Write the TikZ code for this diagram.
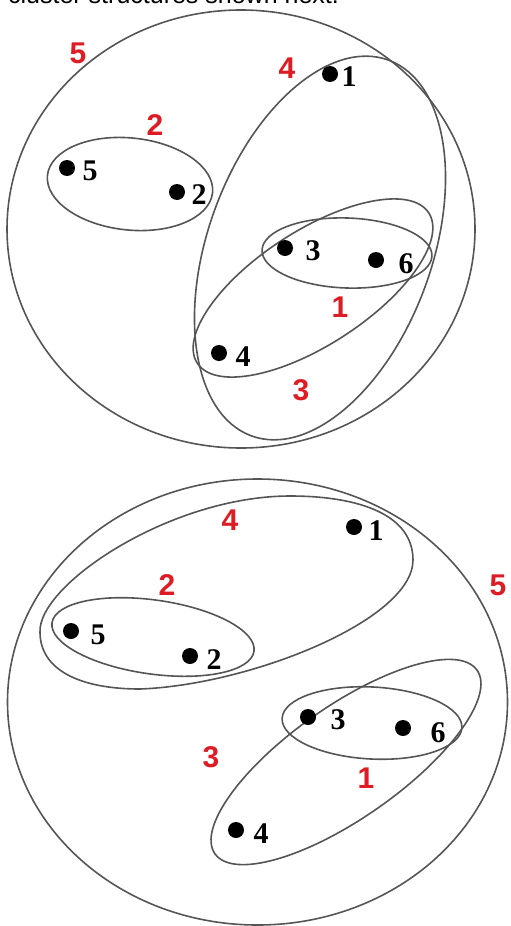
\documentclass[tikz,border=0pt]{standalone}
\usepackage{fontspec}
\setmainfont{Liberation Serif}
\newfontfamily\labsans{Liberation Sans}
\definecolor{cred}{RGB}{222,28,36}
\definecolor{cline}{RGB}{85,85,85}
\begin{document}
\begin{tikzpicture}[x=1pt,y=-1pt,
  ring/.style={draw=cline,line width=1.6pt},
  pt/.style={circle,fill=black,inner sep=0pt,minimum size=16pt},
  num/.style={font=\bfseries\fontsize{30}{30}\selectfont,inner sep=0pt},
  cl/.style={font=\labsans\bfseries\fontsize{30}{30}\selectfont,text=cred,inner sep=0pt}]
\useasboundingbox (0,0) rectangle (511,926);
\node[font=\labsans\fontsize{25}{25}\selectfont,anchor=base west,inner sep=0pt] (cap) at (8,4) {cluster structures shown next.};

% ---------- top diagram ----------
\draw[ring] (241,229) ellipse [x radius=234, y radius=219];
\draw[ring] (130,184) ellipse [x radius=83, y radius=46, rotate=-6];
\draw[ring] (320,248) ellipse [x radius=112, y radius=200, rotate=-20];
\draw[ring] (313,288) ellipse [x radius=138, y radius=57, rotate=33];
\draw[ring] (347,253) ellipse [x radius=85, y radius=35, rotate=-2];

\node[pt] (t1) at (330,74) {};
\node[pt] (t5) at (67,168) {};
\node[pt] (t2) at (177,192) {};
\node[pt] (t3) at (285,248) {};
\node[pt] (t6) at (376,260) {};
\node[pt] (t4) at (219,353) {};
\node[num] (t1l) at (349,77) {1};
\node[num] (t5l) at (90,171) {5};
\node[num] (t2l) at (199,195) {2};
\node[num] (t3l) at (313,251) {3};
\node[num] (t6l) at (406,264) {6};
\node[num] (t4l) at (243,357) {4};

\node[cl] (tc5) at (78,53) {5};
\node[cl] (tc4) at (287,68) {4};
\node[cl] (tc2) at (155,125) {2};
\node[cl] (tc1) at (340,307) {1};
\node[cl] (tc3) at (301,390) {3};

% ---------- bottom diagram ----------
\draw[ring] (257.5,702) ellipse [x radius=250, y radius=223];
\draw[ring] (40,632) .. controls (38,585) and (170,496) .. (290,496)
  .. controls (360,496) and (413,515) .. (413,560)
  .. controls (413,620) and (250,685) .. (140,689)
  .. controls (80,689) and (40,670) .. (40,632) -- cycle;
\draw[ring] (153,637) ellipse [x radius=102, y radius=37, rotate=-8];
\draw[ring] (346,762) ellipse [x radius=160, y radius=56, rotate=35];
\draw[ring] (372,723) ellipse [x radius=90, y radius=36, rotate=-3];

\node[pt] (b1) at (354,527) {};
\node[pt] (b5) at (71,631) {};
\node[pt] (b2) at (190,656) {};
\node[pt] (b3) at (308,717) {};
\node[pt] (b6) at (403,728) {};
\node[pt] (b4) at (236,830) {};
\node[num] (b1l) at (376,531) {1};
\node[num] (b5l) at (98,635) {5};
\node[num] (b2l) at (214,660) {2};
\node[num] (b3l) at (338,720) {3};
\node[num] (b6l) at (438,733) {6};
\node[num] (b4l) at (261,834) {4};

\node[cl] (bc4) at (230,520) {4};
\node[cl] (bc2) at (167,585) {2};
\node[cl] (bc5) at (498,585) {5};
\node[cl] (bc3) at (211,757) {3};
\node[cl] (bc1) at (366,778) {1};
\end{tikzpicture}
\end{document}
